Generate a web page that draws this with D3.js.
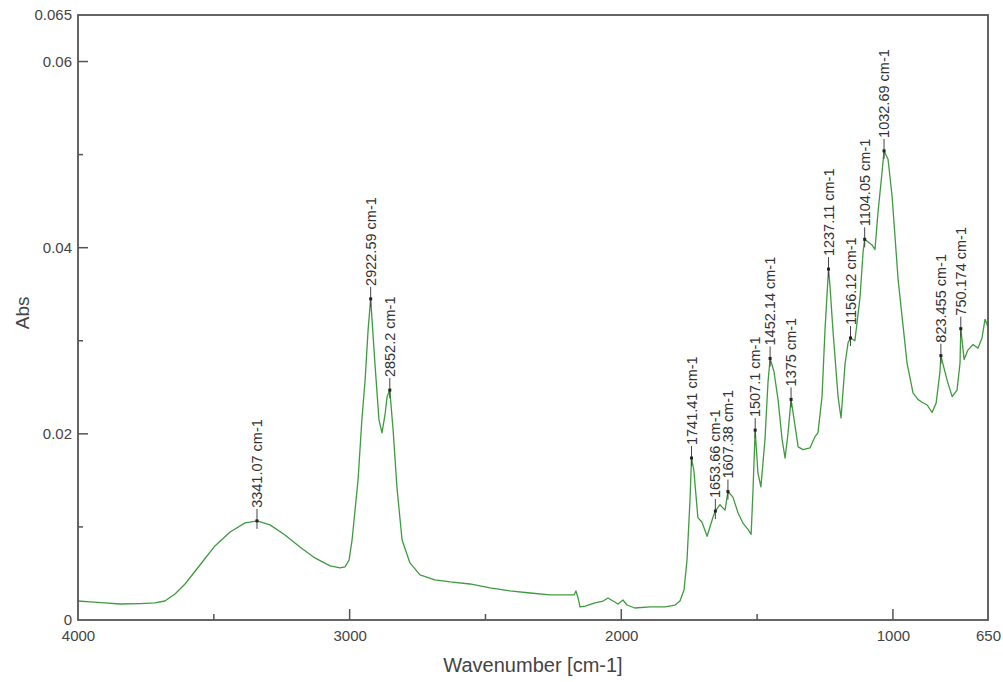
<!DOCTYPE html>
<html>
<head>
<meta charset="utf-8">
<script src="https://cdn.jsdelivr.net/npm/d3@7"></script>
<style>
  body { margin: 0; background: #fff; }
  svg { display: block; font-family: "Liberation Sans", Arial, sans-serif; }
</style>
</head>
<body>
<div class="container"></div>
<script>
// size of the picture and the plot box
const width = 1003;
const height = 682;
const margin = { top: 15, right: 15, bottom: 62, left: 78 };

// spectrum: wavenumber (cm-1) and absorbance
const wavenumbers = [4000, 3956, 3901, 3845, 3772, 3717, 3680, 3643, 3606, 3551,
  3496, 3440, 3385, 3341, 3293, 3238, 3183, 3128, 3072, 3035,
  3017, 3002, 2991, 2980, 2969, 2955, 2943, 2932, 2922.6, 2907,
  2892, 2881, 2870, 2862, 2852.2, 2840, 2826, 2807, 2778, 2741,
  2686, 2630, 2557, 2483, 2410, 2336, 2262, 2207, 2174, 2167,
  2159, 2152, 2133, 2097, 2067, 2049, 2030, 2012, 1994, 1979,
  1950, 1894, 1839, 1802, 1784, 1769, 1758, 1747, 1741.4, 1733,
  1718, 1703, 1684, 1662, 1653.7, 1637, 1618, 1607.4, 1589, 1570,
  1552, 1533, 1522, 1515, 1507.1, 1497, 1486, 1471, 1460, 1452.1,
  1438, 1423, 1408, 1397, 1386, 1375, 1360, 1349, 1331, 1305,
  1287, 1276, 1261, 1250, 1237.1, 1232, 1221, 1202, 1191, 1176,
  1165, 1156.1, 1140, 1121, 1110, 1104.1, 1077, 1066, 1055, 1040,
  1032.7, 1018, 1003, 981, 948, 926, 908, 893, 874, 856,
  841, 827, 823.5, 801, 782, 764, 753, 750.2, 738, 724,
  705, 687, 672, 661, 650];
const absorbance = [0.00204, 0.00194, 0.00183, 0.00172, 0.00177, 0.00183, 0.00204, 0.0028, 0.00387, 0.00591,
  0.00796, 0.00946, 0.01043, 0.01065, 0.01022, 0.00914, 0.00785, 0.00667, 0.00581, 0.00559,
  0.0057, 0.00645, 0.0086, 0.01183, 0.01505, 0.0215, 0.0258, 0.0312, 0.0345, 0.0276,
  0.0215, 0.0201, 0.022, 0.024, 0.0247, 0.0204, 0.0143, 0.0086, 0.00613, 0.00484,
  0.0043, 0.00409, 0.00387, 0.00344, 0.00312, 0.0029, 0.00269, 0.00269, 0.00269, 0.00312,
  0.00237, 0.0014, 0.0015, 0.00183, 0.00204, 0.00237, 0.00204, 0.00172, 0.00215, 0.00161,
  0.00129, 0.0014, 0.0014, 0.00161, 0.00204, 0.00323, 0.00645, 0.0129, 0.0174, 0.0161,
  0.011, 0.0105, 0.009, 0.0111, 0.0117, 0.0124, 0.0118, 0.0138, 0.0132, 0.0115,
  0.0104, 0.0097, 0.0092, 0.014, 0.0204, 0.0158, 0.0143, 0.0194, 0.0255, 0.0281,
  0.0267, 0.0237, 0.0194, 0.0174, 0.0201, 0.0237, 0.0208, 0.0186, 0.0183, 0.0185,
  0.0197, 0.0201, 0.024, 0.0312, 0.0377, 0.036, 0.0312, 0.024, 0.0217, 0.0276,
  0.0298, 0.0303, 0.03, 0.0347, 0.0395, 0.0409, 0.0403, 0.0398, 0.0438, 0.0481,
  0.0504, 0.0495, 0.0455, 0.0366, 0.0276, 0.0244, 0.0237, 0.0234, 0.0231, 0.0223,
  0.0233, 0.0266, 0.0284, 0.0258, 0.024, 0.0247, 0.0276, 0.0313, 0.028, 0.029,
  0.0296, 0.0292, 0.0303, 0.0323, 0.0315];

// labelled peaks
const peakWavenumbers = [3341.07, 2922.59, 2852.2, 1741.41, 1653.66, 1607.38, 1507.1, 1452.14,
  1375, 1237.11, 1156.12, 1104.05, 1032.69, 823.455, 750.174];
const peakAbs = [0.01065, 0.0345, 0.0247, 0.0174, 0.0117, 0.0138, 0.0204, 0.0281,
  0.0237, 0.0377, 0.0303, 0.0409, 0.0504, 0.0284, 0.0313];

// tick values
const xMajorTicks = [4000, 3000, 2000, 1000, 650];
const xMinorTicks = [3500, 2500, 1500];
const yMajorTicks = [0, 0.02, 0.04, 0.06, 0.065];
const yMinorTicks = [0.01, 0.03, 0.05];

const svg = d3.select(".container")
  .append("svg")
  .attr("width", width)
  .attr("height", height);

// reversed wavenumber axis, as in IR spectra
const xScale = d3.scaleLinear()
  .domain([4000, 650])
  .range([margin.left, width - margin.right]);

const yScale = d3.scaleLinear()
  .domain([0, 0.065])
  .range([height - margin.bottom, margin.top]);

const axisColor = "#555";
const textColor = "#444";

// bottom axis: labels, then major and minor ticks pointing inward
function xAxis(g) {
  g.call(d3.axisBottom(xScale)
    .tickValues(xMajorTicks)
    .tickSize(0)
    .tickPadding(10)
    .tickFormat(d3.format("d")));
  g.select(".domain").remove();
  g.selectAll("text").attr("font-size", "15px").attr("fill", textColor);
}

function yAxis(g) {
  g.call(d3.axisLeft(yScale)
    .tickValues(yMajorTicks)
    .tickSize(0)
    .tickPadding(6)
    .tickFormat(d => d === 0 ? "0" : String(+d.toFixed(3))));
  g.select(".domain").remove();
  g.selectAll("text").attr("font-size", "15px").attr("fill", textColor);
}

svg.append("g")
  .attr("transform", `translate(0, ${height - margin.bottom})`)
  .call(xAxis);

svg.append("g")
  .attr("transform", `translate(${margin.left}, 0)`)
  .call(yAxis);

const ticks = svg.append("g")
  .attr("stroke", axisColor)
  .attr("stroke-width", 1.5);

ticks.selectAll(".xmaj")
  .data(xMajorTicks.filter(d => d !== 4000 && d !== 650))
  .join("line")
  .attr("x1", d => xScale(d)).attr("x2", d => xScale(d))
  .attr("y1", yScale(0)).attr("y2", yScale(0) - 11);

ticks.selectAll(".xmin")
  .data(xMinorTicks)
  .join("line")
  .attr("x1", d => xScale(d)).attr("x2", d => xScale(d))
  .attr("y1", yScale(0)).attr("y2", yScale(0) - 6);

ticks.selectAll(".ymaj")
  .data(yMajorTicks.filter(d => d > 0 && d < 0.065))
  .join("line")
  .attr("x1", xScale(4000)).attr("x2", xScale(4000) + 10)
  .attr("y1", d => yScale(d)).attr("y2", d => yScale(d));

ticks.selectAll(".ymin")
  .data(yMinorTicks)
  .join("line")
  .attr("x1", xScale(4000)).attr("x2", xScale(4000) + 5)
  .attr("y1", d => yScale(d)).attr("y2", d => yScale(d));

// the spectrum line
const spectrum = wavenumbers.map((w, i) => [w, absorbance[i]]);

const line = d3.line()
  .x(d => xScale(d[0]))
  .y(d => yScale(d[1]));

svg.append("path")
  .datum(spectrum)
  .attr("fill", "none")
  .attr("stroke", "#3f9b3f")
  .attr("stroke-width", 1.3)
  .attr("stroke-linejoin", "round")
  .attr("d", line);

// peak markers and rotated labels
const peaks = svg.append("g");

peakWavenumbers.forEach((w, i) => {
  const px = xScale(w);
  const py = yScale(peakAbs[i]);
  peaks.append("line")
    .attr("x1", px).attr("x2", px)
    .attr("y1", py + 8).attr("y2", py - 12)
    .attr("stroke", "#444")
    .attr("stroke-width", 1);
  peaks.append("rect")
    .attr("x", px - 1.5).attr("y", py - 1.5)
    .attr("width", 3).attr("height", 3)
    .attr("fill", "#222");
  peaks.append("text")
    .attr("transform", `translate(${px}, ${py - 13}) rotate(-90)`)
    .attr("dy", "0.35em")
    .attr("font-size", "14.5px")
    .attr("fill", "#333")
    .text(`${w} cm-1`);
});

// plot frame
svg.append("rect")
  .attr("x", margin.left)
  .attr("y", margin.top)
  .attr("width", width - margin.left - margin.right)
  .attr("height", height - margin.top - margin.bottom)
  .attr("fill", "none")
  .attr("stroke", axisColor)
  .attr("stroke-width", 1.8);

// axis titles
svg.append("text")
  .attr("x", (margin.left + width - margin.right) / 2)
  .attr("y", 672)
  .attr("text-anchor", "middle")
  .attr("font-size", "20px")
  .attr("fill", textColor)
  .text("Wavenumber [cm-1]");

svg.append("text")
  .attr("transform", `translate(29, ${yScale(0.033)}) rotate(-90)`)
  .attr("text-anchor", "middle")
  .attr("font-size", "19px")
  .attr("fill", textColor)
  .text("Abs");
</script>
</body>
</html>
